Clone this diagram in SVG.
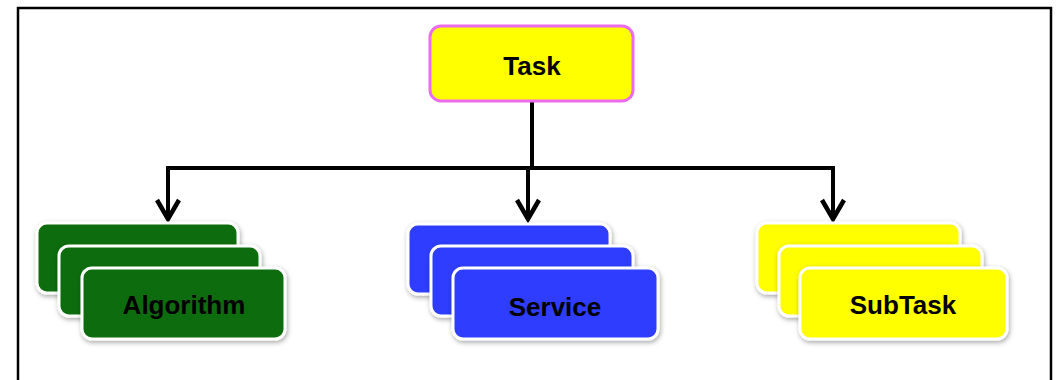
<svg xmlns="http://www.w3.org/2000/svg" width="1058" height="380" viewBox="0 0 1058 380">
  <style>
    .frame { fill: none; stroke: #000; stroke-width: 2.5; }
    .card { stroke: #fff; stroke-width: 3; filter: url(#shade); }
    .green { fill: #0b6c0b; }
    .blue { fill: #2f3cff; }
    .yellow { fill: #ffff00; }
    .root { fill: #ffff00; stroke: #ee6aee; stroke-width: 3; }
    .label { font-family: "Liberation Sans", Arial, sans-serif; font-weight: bold; font-size: 26px; fill: #000; text-anchor: middle; dominant-baseline: central; }
    .wire { fill: none; stroke: #000; stroke-width: 4; }
    .head { fill: none; stroke: #000; stroke-width: 4.5; stroke-linejoin: miter; }
  </style>
  <defs>
    <filter id="shade" x="-10%" y="-20%" width="125%" height="150%">
      <feDropShadow dx="1" dy="2" stdDeviation="2.5" flood-color="#000" flood-opacity="0.35"/>
    </filter>
  </defs>

  <rect width="1058" height="380" fill="#fff"/>
  <!-- outer frame: open at the bottom -->
  <path class="frame" d="M18,380 V8 H1051 V380"/>

  <g id="connectors">
    <path class="wire" d="M532,102 V168"/>
    <path class="wire" d="M168,219 V168 H833 V219"/>
    <path class="wire" d="M528,168 V219"/>
    <path class="head" d="M157,200 L168,219 L179,200"/>
    <path class="head" d="M517,200 L528,219 L539,200"/>
    <path class="head" d="M822,200 L833,219 L844,200"/>
  </g>

  <g id="task">
    <rect class="root" x="430" y="26" width="203" height="75" rx="11"/>
    <text class="label" x="532" y="66">Task</text>
  </g>

  <g id="algorithm">
    <rect class="card green" x="37" y="223" width="201" height="70" rx="10"/>
    <rect class="card green" x="59" y="246" width="201" height="70" rx="10"/>
    <rect class="card green" x="82" y="268" width="203" height="71" rx="10"/>
    <text class="label" x="184" y="305">Algorithm</text>
  </g>

  <g id="service">
    <rect class="card blue" x="408" y="224" width="202" height="70" rx="10"/>
    <rect class="card blue" x="431" y="246" width="202" height="70" rx="10"/>
    <rect class="card blue" x="453" y="268" width="205" height="71" rx="10"/>
    <text class="label" x="555" y="307">Service</text>
  </g>

  <g id="subtask">
    <rect class="card yellow" x="757" y="223" width="203" height="70" rx="10"/>
    <rect class="card yellow" x="779" y="246" width="203" height="70" rx="10"/>
    <rect class="card yellow" x="800" y="268" width="207" height="71" rx="10"/>
    <text class="label" x="903" y="305">SubTask</text>
  </g>
</svg>
